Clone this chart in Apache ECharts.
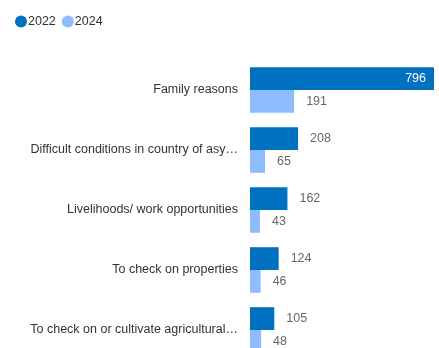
<!DOCTYPE html>
<html>
<head>
<meta charset="utf-8">
<script src="https://cdn.jsdelivr.net/npm/echarts@6/dist/echarts.min.js"></script>
<style>
  html, body { margin: 0; padding: 0; background: #fff; overflow: hidden; height: 348px; }
  #chart { width: 439px; height: 360px; }
</style>
</head>
<body>
<div id="chart"></div>
<script>
// Reasons for return, counts by year
const categories = [
  'Family reasons',
  'Difficult conditions in country of asylum',
  'Livelihoods/ work opportunities',
  'To check on properties',
  'To check on or cultivate agricultural land'
];
const values2022 = [796, 208, 162, 124, 105];
const values2024 = [191, 65, 43, 46, 48];

const FONT = '"Liberation Sans", Arial, sans-serif';
const COLOR_2022 = '#0070C0';
const COLOR_2024 = '#8FBCFF';

const chart = echarts.init(document.getElementById('chart'), null, { renderer: 'canvas' });

function valueLabel() {
  return {
    show: true,
    position: 'right',
    distance: 12,
    color: '#666',
    fontFamily: FONT,
    fontSize: 12.5
  };
}

const maxValue = Math.max.apply(null, values2022);
const data2022 = values2022.map(function (v) {
  // The longest bar carries its value inside, in white
  if (v === maxValue) {
    return { value: v, label: { position: 'insideRight', color: '#fff', distance: 8 } };
  }
  return v;
});

// Long category names are cut to the label column and end in an ellipsis
const LABEL_WIDTH = 210;
const measureCtx = document.createElement('canvas').getContext('2d');
measureCtx.font = '12.5px ' + FONT;
function fitLabel(text) {
  if (measureCtx.measureText(text).width <= LABEL_WIDTH) return text;
  let cut = text;
  while (cut.length && measureCtx.measureText(cut.trimEnd() + '…').width > LABEL_WIDTH) {
    cut = cut.slice(0, -1);
  }
  return cut.trimEnd() + '…';
}

chart.setOption({
  animation: false,
  textStyle: { fontFamily: FONT },
  legend: {
    left: 10,
    top: 10,
    itemWidth: 12,
    itemHeight: 12,
    itemGap: 6,
    icon: 'circle',
    textStyle: { color: '#333', fontSize: 12.5, fontFamily: FONT, padding: [0, 0, 0, -4] },
    data: ['2022', '2024']
  },
  grid: {
    left: 250,
    right: 5,
    top: 60,
    bottom: 0,
    containLabel: false
  },
  xAxis: {
    type: 'value',
    min: 0,
    max: maxValue,
    show: false
  },
  yAxis: {
    type: 'category',
    inverse: true,
    data: categories,
    axisLine: { show: false },
    axisTick: { show: false },
    axisLabel: {
      margin: 12,
      color: '#333',
      fontSize: 12.5,
      fontFamily: FONT,
      formatter: fitLabel
    }
  },
  series: [
    {
      name: '2022',
      type: 'bar',
      data: data2022,
      itemStyle: { color: COLOR_2022 },
      barGap: '0%',
      barCategoryGap: '24%',
      label: valueLabel()
    },
    {
      name: '2024',
      type: 'bar',
      data: values2024,
      itemStyle: { color: COLOR_2024 },
      barGap: '0%',
      barCategoryGap: '24%',
      label: valueLabel()
    }
  ]
});
</script>
</body>
</html>
